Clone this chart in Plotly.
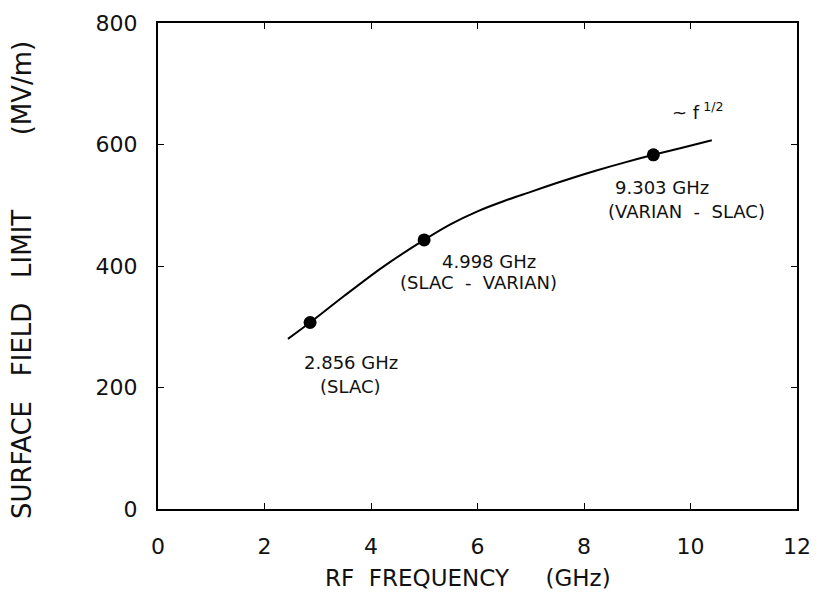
import plotly.graph_objects as go

# Measured frequencies (GHz) and surface field limits (MV/m)
freq_pts = [2.856, 4.998, 9.303]
field_pts = [307, 443, 583]
label_top = ["2.856 GHz", "4.998 GHz", "9.303 GHz"]
label_bot = ["(SLAC)", "(SLAC  -  VARIAN)", "(VARIAN  -  SLAC)"]

# Hand-drawn trend curve
curve_f = [2.44, 2.856, 3.5, 4.2, 4.998, 5.5, 6.0, 6.5, 7.0, 7.5, 8.0, 8.5, 9.0, 9.303, 9.9, 10.4]
curve_e = [280, 307, 351, 397, 443, 469, 490, 507, 522, 537, 551, 564, 576, 583, 596, 607]

x_ticks = [0, 2, 4, 6, 8, 10, 12]
y_ticks = [0, 200, 400, 600, 800]

FONT = "DejaVu Sans"
INK = "#111"

fig = go.Figure()
fig.add_trace(go.Scatter(x=curve_f, y=curve_e, mode="lines",
                         line=dict(color="black", width=2, shape="spline", smoothing=0.8),
                         hoverinfo="skip", showlegend=False))
fig.add_trace(go.Scatter(x=freq_pts, y=field_pts, mode="markers",
                         marker=dict(color="black", size=13),
                         showlegend=False))

# point annotations (pixel offsets from each point)
top_off = [(41, -40), (65, -22), (9, -33)]
bot_off = [(40, -64), (54, -43), (33, -57)]
for fx, fy, t, b, (tdx, tdy), (bdx, bdy) in zip(freq_pts, field_pts, label_top, label_bot, top_off, bot_off):
    fig.add_annotation(x=fx, y=fy, text=t, showarrow=False, xshift=tdx, yshift=tdy,
                       xanchor="center", yanchor="middle",
                       font=dict(family=FONT, size=18, color=INK))
    fig.add_annotation(x=fx, y=fy, text=b, showarrow=False, xshift=bdx, yshift=bdy,
                       xanchor="center", yanchor="middle",
                       font=dict(family=FONT, size=18, color=INK))

fig.add_annotation(x=freq_pts[2], y=field_pts[2], text="~ f<sup> 1/2</sup>", showarrow=False,
                   xshift=44, yshift=44, xanchor="center", yanchor="middle",
                   font=dict(family=FONT, size=18, color=INK))

# axis titles
fig.add_annotation(xref="paper", yref="paper", x=0.485, y=-0.142,
                   xanchor="center", yanchor="middle",
                   text="RF  FREQUENCY     (GHz)", showarrow=False,
                   font=dict(family=FONT, size=23, color=INK))
fig.add_annotation(xref="paper", yref="paper", x=-0.2128, y=0.471, textangle=-90,
                   xanchor="center", yanchor="middle",
                   text="SURFACE   FIELD   LIMIT         (MV/m)", showarrow=False,
                   font=dict(family=FONT, size=26, color=INK))

axis_common = dict(showline=True, linecolor="black", linewidth=2, mirror="ticks",
                   ticks="inside", ticklen=6, tickcolor="black", tickwidth=1,
                   showgrid=False, zeroline=False, automargin=False,
                   tickfont=dict(family=FONT, size=22, color=INK))

fig.update_xaxes(range=[0, 12], tickvals=x_ticks, ticktext=[str(v) for v in x_ticks],
                 ticklabelstandoff=17, **axis_common)
fig.update_yaxes(range=[0, 800], tickvals=y_ticks, ticktext=[str(v) for v in y_ticks],
                 ticklabelstandoff=14, **axis_common)

fig.update_layout(width=813, height=600, plot_bgcolor="white", paper_bgcolor="white",
                  margin=dict(l=150, r=24, t=15, b=99))

fig.write_html("out.html")
